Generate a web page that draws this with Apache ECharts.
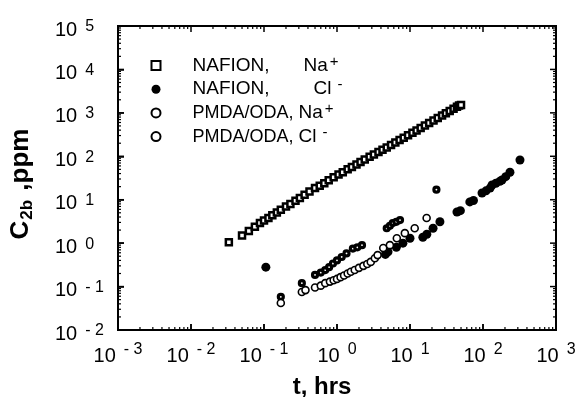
<!DOCTYPE html>
<html><head><meta charset="utf-8">
<script src="https://cdn.jsdelivr.net/npm/echarts@6/dist/echarts.min.js"></script>
<style>html,body{margin:0;padding:0;background:#fff}#c{width:584px;height:397px}</style>
</head><body><div id="c"></div>
<script>
// ---- data (t in hrs, C2b in ppm) ----
const nafionNaT = [0.033,0.05,0.062,0.075,0.088,0.1,0.115,0.13,0.15,0.17,0.2,0.23,0.27,0.31,0.36,0.42,0.5,0.58,0.67,0.77,0.9,1.05,1.2,1.4,1.6,1.85,2.1,2.4,2.8,3.2,3.7,4.2,4.8,5.5,6.3,7.2,8.2,9.4,10.8,12.3,14,16,18.3,21,24,27.5,31,35,39.5,44,47,50];
const nafionNaC = [1.05,1.5,1.9,2.4,2.9,3.3,3.8,4.4,5.1,5.9,7.0,8.0,9.5,11,13,15.5,18.5,21,24,28,33,38,43,50,57,65,74,84,97,110,125,142,160,182,208,236,268,305,348,395,450,512,585,665,760,865,980,1100,1240,1380,1480,1520];

const nafionClT = [0.106,4.6,5.0,6.5,8.0,10,15,17,20.7,25.7,44,49,66,74,97,110,125,133,150,170,182,205,234,321];
const nafionClC = [0.28,0.55,0.63,0.8,1.0,1.3,1.37,1.6,2.2,3.1,5.2,5.6,8.9,9.6,14.3,16,18.5,21.8,24,26.5,28.4,34,43,82];

const pmdaNaT = [0.17,0.33,0.5,0.6,0.69,0.78,0.88,1.0,1.16,1.35,1.65,1.9,2.2,4.8,5.3,5.8,6.5,7.3,23];
const pmdaNaC = [0.058,0.12,0.185,0.21,0.24,0.28,0.34,0.4,0.48,0.58,0.75,0.8,0.9,2.2,2.5,2.9,3.1,3.4,17];

const pmdaClT = [0.17,0.33,0.37,0.5,0.6,0.69,0.8,0.9,1.0,1.12,1.25,1.4,1.55,1.75,2.0,2.3,2.6,2.9,3.3,3.6,4.3,5.3,6.6,8.5,11.6,16.9];
const pmdaClC = [0.042,0.075,0.083,0.095,0.105,0.12,0.13,0.14,0.15,0.165,0.18,0.2,0.22,0.24,0.27,0.3,0.33,0.37,0.45,0.53,0.77,0.9,1.3,1.7,2.2,3.8];

const seriesNames = ['NAFION, Na+','NAFION, Cl-','PMDA/ODA, Na+','PMDA/ODA, Cl-'];
const xTitle = 't, hrs';
const yTitle = '{c|C}{d|2b}{c| ,ppm}';
const xMin = 0.001, xMax = 1000, yMin = 0.01, yMax = 100000;
const xExp = [-3, 3], yExp = [-2, 5];

// ---- helpers ----
const FONT = '"Liberation Sans", Arial, Helvetica, sans-serif';
const zip = (a, b) => a.map((v, i) => [v, b[i]]);
function expLabel(v) {
  const e = Math.round(Math.log10(v));
  const s = e < 0 ? '- ' + (-e) : '' + e;
  return '{b|10}{s|' + s + '}';
}
const xRich = {
  b: {fontSize: 20, lineHeight: 28, fontFamily: FONT, color: '#000'},
  s: {fontSize: 16, lineHeight: 12, verticalAlign: 'top', fontFamily: FONT, color: '#000', padding: [0, 0, 0, 8]}
};
const yRich = {
  b: {fontSize: 20, lineHeight: 28, fontFamily: FONT, color: '#000', padding: [8, 0, 0, 0]},
  s: {fontSize: 16, lineHeight: 12, verticalAlign: 'top', fontFamily: FONT, color: '#000', padding: [7, 0, 0, 8]}
};
const titles = [
  {type: 'text', id: 'xt', x: 322, y: 387, silent: true,
   style: {text: xTitle, align: 'center', verticalAlign: 'middle', fill: '#000', font: 'bold 24px ' + FONT}},
  {type: 'text', id: 'yt', x: 21, y: 184, rotation: Math.PI / 2, silent: true,
   style: {text: yTitle, align: 'center', verticalAlign: 'middle', fill: '#000', font: 'bold 26px ' + FONT,
     rich: {
       c: {fontSize: 26, fontWeight: 'bold', fontFamily: FONT, fill: '#000', lineHeight: 30},
       d: {fontSize: 17, fontWeight: 'bold', fontFamily: FONT, fill: '#000', verticalAlign: 'bottom', lineHeight: 14, padding: [0, 2, 0, 1]}
     }}}
];

const chart = echarts.init(document.getElementById('c'));
chart.setOption({
  animation: false,
  grid: {left: 118, right: 28, top: 26, bottom: 67, containLabel: false, outerBoundsMode: 'none'},
  xAxis: {type: 'log', logBase: 10, min: xMin, max: xMax, position: 'bottom',
     axisLine: {show: true, onZero: false, lineStyle: {color: '#000', width: 2}},
     axisTick: {show: true, inside: true, length: 6, lineStyle: {color: '#000', width: 1.5}}, splitLine: {show: false},
     axisLabel: {show: true, formatter: expLabel, rich: xRich, margin: 12, showMinLabel: true, showMaxLabel: true, hideOverlap: false}},
  yAxis: {type: 'log', logBase: 10, min: yMin, max: yMax, position: 'left',
     axisLine: {show: true, onZero: false, lineStyle: {color: '#000', width: 2}},
     axisTick: {show: true, inside: true, length: 6, lineStyle: {color: '#000', width: 1.5}}, splitLine: {show: false},
     axisLabel: {show: true, formatter: expLabel, rich: yRich, align: 'left', margin: 63, showMinLabel: true, showMaxLabel: true, hideOverlap: false}},
  graphic: titles,
  legend: {
    show: true, orient: 'vertical', left: 145.5, top: 49, itemWidth: 9, itemHeight: 9, itemGap: 0.7,
    data: seriesNames, selectedMode: false,
    formatter: function (n) {
      return {
        'NAFION, Na+': '{a|NAFION,}{n|Na}{s|+}',
        'NAFION, Cl-': '{c|NAFION,}{n|Cl}{s| -}',
        'PMDA/ODA, Na+': '{p|PMDA/ODA,}{n|Na}{s|+}',
        'PMDA/ODA, Cl-': '{p|PMDA/ODA,}{n|Cl}{s| -}'
      }[n];
    },
    textStyle: {fontFamily: FONT, fontSize: 19, color: '#000', lineHeight: 23, rich: {
      a: {fontSize: 19, fontFamily: FONT, color: '#000', width: 111, lineHeight: 23, padding: [0, 0, 0, 27]},
      c: {fontSize: 19, fontFamily: FONT, color: '#000', width: 121, lineHeight: 23, padding: [0, 0, 0, 27]},
      p: {fontSize: 18, fontFamily: FONT, color: '#000', width: 106, lineHeight: 23, padding: [0, 0, 0, 27]},
      n: {fontSize: 19, fontFamily: FONT, color: '#000', lineHeight: 23},
      s: {fontSize: 15, fontFamily: FONT, color: '#000', lineHeight: 8, verticalAlign: 'top', padding: [0, 0, 0, 2]}
    }}
  },
  series: [
    {name: seriesNames[0], type: 'scatter', data: zip(nafionNaT, nafionNaC), symbol: 'rect', symbolSize: 6,
     itemStyle: {color: '#fff', borderColor: '#000', borderWidth: 2.5, opacity: 1}},
    {name: seriesNames[1], type: 'scatter', data: zip(nafionClT, nafionClC), symbol: 'circle', symbolSize: 9,
     itemStyle: {color: '#000', borderColor: '#000', borderWidth: 0, opacity: 1}},
    {name: seriesNames[2], type: 'scatter', data: zip(pmdaNaT, pmdaNaC), symbol: 'circle', symbolSize: 5,
     itemStyle: {color: '#fff', borderColor: '#000', borderWidth: 3.2, opacity: 1}},
    {name: seriesNames[3], type: 'scatter', data: zip(pmdaClT, pmdaClC), symbol: 'circle', symbolSize: 7,
     itemStyle: {color: '#fff', borderColor: '#000', borderWidth: 1.6, opacity: 1}}
  ]
});

// ---- frame and inward major/minor ticks on all four sides, placed through the axes' own scales ----
try {
  const lo = chart.convertToPixel({gridIndex: 0}, [xMin, yMin]);
  const hi = chart.convertToPixel({gridIndex: 0}, [xMax, yMax]);
  const kids = [{type: 'rect', shape: {x: lo[0], y: hi[1], width: hi[0] - lo[0], height: lo[1] - hi[1]},
                 style: {stroke: '#000', fill: null, lineWidth: 2}}];
  const addX = (v, len) => {
    const px = chart.convertToPixel({xAxisIndex: 0}, v);
    const st = {stroke: '#000', lineWidth: len > 4 ? 1.5 : 1.2};
    kids.push({type: 'line', shape: {x1: px, y1: lo[1], x2: px, y2: lo[1] - len}, style: st});
    kids.push({type: 'line', shape: {x1: px, y1: hi[1], x2: px, y2: hi[1] + len}, style: st});
  };
  const addY = (v, len) => {
    const py = chart.convertToPixel({yAxisIndex: 0}, v);
    const st = {stroke: '#000', lineWidth: len > 4 ? 1.5 : 1.2};
    kids.push({type: 'line', shape: {x1: lo[0], y1: py, x2: lo[0] + len, y2: py}, style: st});
    kids.push({type: 'line', shape: {x1: hi[0], y1: py, x2: hi[0] - len, y2: py}, style: st});
  };
  for (let d = xExp[0]; d <= xExp[1]; d++) {
    addX(Math.pow(10, d), 6);
    if (d < xExp[1]) for (let k = 2; k <= 9; k++) addX(k * Math.pow(10, d), 3);
  }
  for (let d = yExp[0]; d <= yExp[1]; d++) {
    addY(Math.pow(10, d), 6);
    if (d < yExp[1]) for (let k = 2; k <= 9; k++) addY(k * Math.pow(10, d), 3);
  }
  chart.setOption({graphic: titles.concat([{type: 'group', id: 'frame', z: 100, silent: true, children: kids}])});
} catch (e) {}
</script>
</body></html>
